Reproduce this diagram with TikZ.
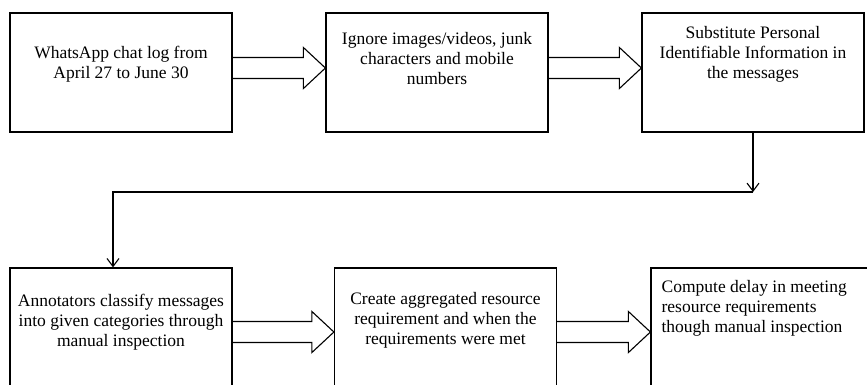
\documentclass[tikz,border=0pt]{standalone}
\usepackage{fontspec}
\setmainfont{Liberation Serif}
\usetikzlibrary{arrows.meta,calc}

\tikzset{
  stage/.style={draw, line width=1.2pt, minimum width=222pt, inner sep=0pt},
  stagetext/.style={font=\fontsize{17.5}{20}\selectfont, align=center, inner sep=0pt, anchor=north},
  fatarrow/.style={draw, line width=1.1pt, line join=miter},
  flow/.style={draw, line width=1.1pt, -{Straight Barb[length=8pt,width=12pt]}}
}

% hollow block arrow between two boxes of one row: #3 = shift of its axis
\newcommand{\fatarrow}[3]{%
  \draw[fatarrow] ([yshift=#3+10.5pt]#1.east)
    -- ($(#2.west)+(-22pt,#3+10.5pt)$) -- ($(#2.west)+(-22pt,#3+20.5pt)$)
    -- ([yshift=#3]#2.west)
    -- ($(#2.west)+(-22pt,#3-20.5pt)$) -- ($(#2.west)+(-22pt,#3-10.5pt)$)
    -- ([yshift=#3-10.5pt]#1.east);
}

\begin{document}
\begin{tikzpicture}[x=1pt,y=1pt]
  \useasboundingbox (0,0) rectangle (867,-384);
  \clip (0,0) rectangle (867,-384);

  % top row
  \node[stage, minimum height=119pt] (log) at (121,-72.5) {};
  \node[stage, minimum height=119pt] (clean) at (437,-72.5) {};
  \node[stage, minimum height=119pt] (pii) at (753,-72.5) {};
  % bottom row
  \node[stage, minimum height=128pt] (annot) at (121,-332) {};
  \node[stage, minimum height=128pt] (aggr) at (445.5,-332) {};
  \node[stage, minimum height=128pt] (delay) at (762,-332) {};

  \node[stagetext] (logtxt) at ([yshift=-34pt]log.north)
    {WhatsApp chat log from\\April 27 to June 30};
  \node[stagetext] (cleantxt) at ([yshift=-20pt]clean.north)
    {Ignore images/videos, junk\\characters and mobile\\numbers};
  \node[stagetext] (piitxt) at ([yshift=-14pt]pii.north)
    {Substitute Personal\\Identifiable Information in\\the messages};
  \node[stagetext] (annottxt) at ([yshift=-27pt]annot.north)
    {Annotators classify messages\\into given categories through\\manual inspection};
  \node[stagetext] (aggrtxt) at ([yshift=-25pt]aggr.north)
    {Create aggregated resource\\requirement and when the\\requirements were met};
  \node[stagetext, align=left, anchor=north west] (delaytxt)
    at ([xshift=11pt,yshift=-13pt]delay.north west)
    {Compute delay in meeting\\resource requirements\\though manual inspection};

  \fatarrow{log}{clean}{4.5pt}
  \fatarrow{clean}{pii}{4.5pt}
  \fatarrow{annot}{aggr}{0pt}
  \fatarrow{aggr}{delay}{0pt}

  % wrap around to the second row
  \coordinate (turn) at (753,-192);
  \draw[flow] (pii.south) -- (turn);
  \draw[flow] (turn) -| ([xshift=-8pt]annot.north);
\end{tikzpicture}
\end{document}
